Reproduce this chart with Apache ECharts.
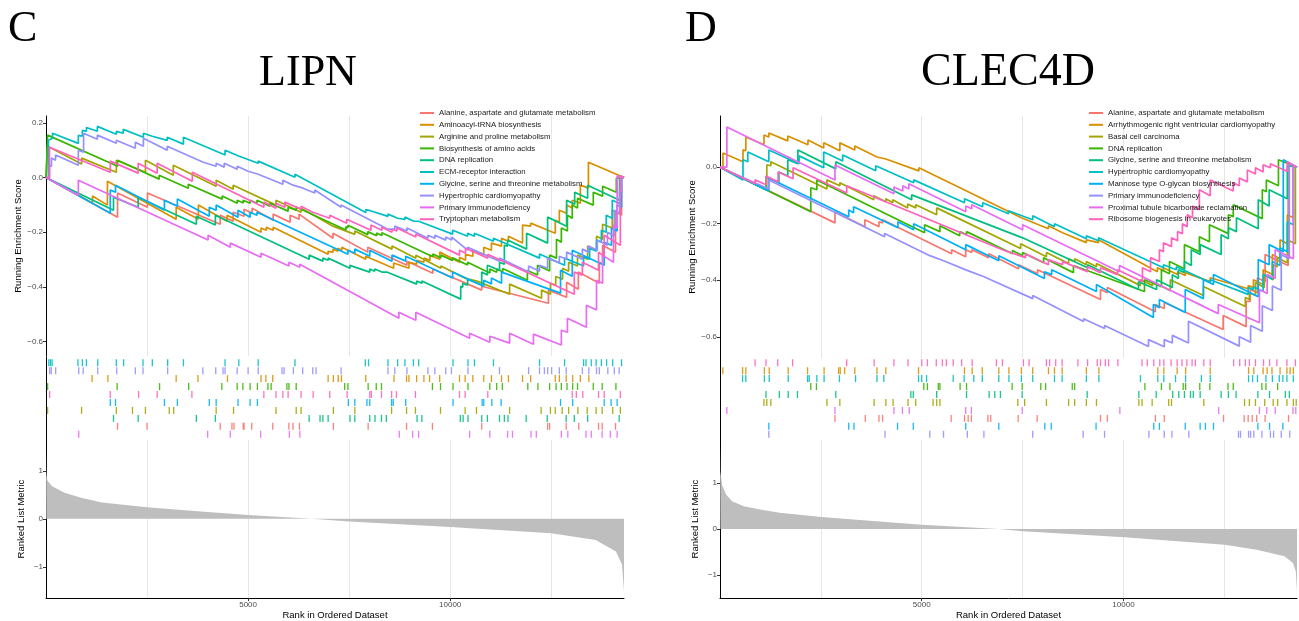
<!DOCTYPE html>
<html>
<head>
<meta charset="utf-8">
<title>GSEA running enrichment - LIPN / CLEC4D</title>
<script src="https://cdn.jsdelivr.net/npm/echarts@6/dist/echarts.min.js"></script>
<style>
  html, body { margin: 0; padding: 0; background: #fff; }
  #chart { width: 1299px; height: 621px; }
</style>
</head>
<body>
<div id="chart"></div>
<script>
// ---------------- data ----------------
const rankMax = 14300
const xTicks = [5000, 10000]
const yTicksTopC = [-0.6, -0.4, -0.2, 0, 0.2]
const yTicksTopD = [-0.6, -0.4, -0.2, 0]
const yTicksMetric = [-1, 0, 1]

const namesC = ['Alanine, aspartate and glutamate metabolism', 'Aminoacyl-tRNA biosynthesis', 'Arginine and proline metabolism',
  'Biosynthesis of amino acids', 'DNA replication', 'ECM-receptor interaction', 'Glycine, serine and threonine metabolism',
  'Hypertrophic cardiomyopathy', 'Primary immunodeficiency', 'Tryptophan metabolism']
const namesD = ['Alanine, aspartate and glutamate metabolism', 'Arrhythmogenic right ventricular cardiomyopathy', 'Basal cell carcinoma',
  'DNA replication', 'Glycine, serine and threonine metabolism', 'Hypertrophic cardiomyopathy', 'Mannose type O-glycan biosynthesis',
  'Primary immunodeficiency', 'Proximal tubule bicarbonate reclamation', 'Ribosome biogenesis in eukaryotes']

// rug row (top = 0) of each gene set, legend order
const rugRowsC = [8, 2, 6, 3, 7, 0, 5, 1, 9, 4]
const rugRowsD = [7, 1, 5, 3, 4, 2, 8, 9, 6, 0]

// running enrichment score, [rank, score]
const esC_alanine = [[1,0],[1770,-0.145],[1770,-0.057],[2510,-0.109],[2510,-0.057],[4310,-0.171],[4310,-0.138],[4630,-0.160],[4630,-0.127],[4900,-0.142],[4900,-0.116],[5100,-0.131],[5100,-0.112],[5620,-0.156],[5620,-0.134],[6040,-0.164],[6040,-0.138],[6260,-0.153],[6260,-0.134],[7100,-0.222],[7100,-0.204],[7960,-0.273],[7960,-0.255],[8930,-0.321],[8930,-0.306],[9570,-0.350],[9570,-0.335],[10780,-0.412],[10780,-0.398],[12430,-0.460],[12430,-0.412],[12880,-0.438],[12880,-0.383],[13170,-0.409],[13170,-0.346],[13690,-0.387],[13690,-0.310],[13770,-0.317],[13770,-0.248],[14090,-0.273],[14090,-0.120],[14240,-0.138],[14240,0.004],[14300,0]]
const esC_aminoacyl = [[1,0],[1150,-0.094],[1150,-0.068],[1520,-0.101],[1520,-0.014],[3220,-0.153],[3220,-0.109],[3770,-0.153],[3770,-0.101],[4480,-0.160],[4480,-0.138],[5320,-0.200],[5320,-0.185],[5450,-0.193],[5450,-0.182],[5620,-0.193],[5620,-0.182],[6980,-0.281],[6980,-0.270],[7100,-0.273],[7100,-0.262],[7220,-0.270],[7220,-0.259],[7320,-0.266],[7320,-0.255],[7910,-0.299],[7910,-0.288],[8600,-0.332],[8600,-0.313],[8980,-0.332],[8980,-0.310],[9170,-0.317],[9170,-0.303],[9350,-0.310],[9350,-0.295],[9500,-0.303],[9500,-0.284],[9740,-0.299],[9740,-0.273],[10230,-0.310],[10230,-0.292],[10380,-0.303],[10380,-0.281],[10560,-0.288],[10560,-0.266],[10830,-0.284],[10830,-0.255],[11020,-0.266],[11020,-0.240],[11270,-0.251],[11270,-0.222],[11440,-0.233],[11440,-0.215],[11790,-0.240],[11790,-0.174],[11990,-0.178],[11990,-0.167],[12600,-0.204],[12600,-0.156],[12700,-0.164],[12700,-0.120],[12880,-0.131],[12880,-0.101],[13020,-0.112],[13020,-0.083],[13220,-0.094],[13220,-0.028],[13420,-0.039],[13420,0.056],[14300,0]]
const esC_arginine = [[1,0],[40,0],[40,0.114],[880,0.049],[880,0.071],[1740,0.019],[1740,0.063],[2460,0.019],[2460,0.063],[3150,0.008],[3150,0.045],[4210,-0.032],[4210,-0.010],[4630,-0.043],[4630,-0.028],[5690,-0.101],[5690,-0.083],[6310,-0.127],[6310,-0.112],[7100,-0.178],[7100,-0.171],[7640,-0.208],[7640,-0.196],[8560,-0.262],[8560,-0.251],[9150,-0.295],[9150,-0.284],[9770,-0.332],[9770,-0.324],[10380,-0.369],[10380,-0.362],[10660,-0.379],[10660,-0.372],[11470,-0.427],[11470,-0.390],[12260,-0.442],[12260,-0.412],[12480,-0.427],[12480,-0.387],[12610,-0.394],[12610,-0.362],[12780,-0.372],[12780,-0.332],[12930,-0.343],[12930,-0.310],[13150,-0.324],[13150,-0.284],[13400,-0.299],[13400,-0.251],[13620,-0.266],[13620,-0.215],[13770,-0.226],[13770,-0.171],[14010,-0.185],[14010,-0.120],[14210,-0.134],[14210,0.005],[14300,0]]
const esC_biosynth = [[1,0],[40,0],[40,0.155],[1770,0.041],[1770,0.063],[2800,-0.006],[2800,0.008],[3520,-0.039],[3520,-0.025],[4360,-0.079],[4360,-0.068],[4730,-0.094],[4730,-0.083],[4880,-0.093],[4880,-0.083],[5050,-0.094],[5050,-0.083],[5220,-0.094],[5220,-0.083],[5540,-0.105],[5540,-0.094],[5990,-0.123],[5990,-0.109],[6190,-0.120],[6190,-0.108],[7420,-0.192],[7420,-0.180],[7470,-0.184],[7470,-0.175],[7960,-0.209],[7960,-0.198],[8180,-0.213],[8180,-0.203],[8310,-0.212],[8310,-0.202],[9570,-0.290],[9570,-0.280],[9770,-0.294],[9770,-0.284],[10060,-0.304],[10060,-0.294],[10430,-0.320],[10430,-0.310],[10980,-0.349],[10980,-0.335],[11150,-0.347],[11150,-0.335],[11300,-0.345],[11300,-0.333],[11910,-0.376],[11910,-0.340],[12160,-0.357],[12160,-0.321],[12460,-0.342],[12460,-0.284],[12630,-0.295],[12630,-0.226],[12750,-0.237],[12750,-0.185],[12900,-0.196],[12900,-0.138],[13020,-0.149],[13020,-0.101],[13150,-0.112],[13150,-0.076],[13540,-0.101],[13540,-0.054],[13770,-0.068],[13770,-0.032],[14110,-0.054],[14110,-0.003],[14300,0]]
const esC_dna = [[1,0],[1670,-0.120],[1670,-0.072],[2280,-0.109],[2280,-0.072],[3720,-0.171],[3720,-0.142],[4190,-0.174],[4190,-0.138],[6510,-0.299],[6510,-0.284],[6850,-0.306],[6850,-0.295],[6980,-0.303],[6980,-0.295],[7520,-0.332],[7520,-0.321],[7640,-0.328],[7640,-0.321],[8010,-0.346],[8010,-0.335],[8130,-0.343],[8130,-0.335],[8310,-0.346],[8310,-0.339],[8430,-0.346],[8430,-0.339],[9170,-0.390],[9170,-0.379],[9300,-0.387],[9300,-0.379],[10260,-0.445],[10260,-0.398],[10310,-0.401],[10310,-0.387],[10430,-0.394],[10430,-0.372],[10780,-0.394],[10780,-0.346],[10920,-0.357],[10920,-0.321],[11220,-0.339],[11220,-0.310],[11340,-0.317],[11340,-0.248],[11420,-0.251],[11420,-0.229],[11890,-0.262],[11890,-0.204],[12410,-0.240],[12410,-0.145],[12880,-0.178],[12880,-0.083],[13080,-0.098],[13080,-0.054],[13400,-0.076],[13400,-0.028],[14190,-0.083],[14190,0.004],[14300,0]]
const esC_ecm = [[1,0],[60,0],[60,0.136],[160,0.144],[160,0.162],[800,0.125],[800,0.154],[900,0.151],[900,0.173],[1000,0.169],[1000,0.183],[1270,0.169],[1270,0.187],[1740,0.158],[1740,0.169],[1910,0.162],[1910,0.176],[2410,0.147],[2410,0.162],[2630,0.151],[2630,0.158],[3000,0.136],[3000,0.147],[3400,0.122],[3400,0.147],[4430,0.082],[4430,0.100],[4780,0.078],[4780,0.085],[5250,0.052],[5250,0.060],[6160,0.001],[6160,0.012],[7910,-0.128],[7910,-0.117],[7990,-0.120],[7990,-0.113],[8460,-0.142],[8460,-0.134],[8700,-0.149],[8700,-0.142],[8880,-0.153],[8880,-0.145],[9100,-0.160],[9100,-0.153],[9220,-0.160],[9220,-0.153],[10060,-0.207],[10060,-0.193],[10430,-0.215],[10430,-0.204],[10600,-0.215],[10600,-0.204],[11070,-0.233],[11070,-0.222],[12210,-0.295],[12210,-0.280],[12830,-0.321],[12830,-0.295],[13300,-0.324],[13300,-0.288],[13450,-0.299],[13450,-0.259],[13620,-0.270],[13620,-0.230],[13740,-0.237],[13740,-0.193],[13860,-0.200],[13860,-0.138],[14010,-0.149],[14010,-0.083],[14230,-0.097],[14230,0.003],[14300,0]]
const esC_glycine = [[1,0],[1590,-0.131],[1590,-0.046],[1720,-0.054],[1720,-0.028],[2930,-0.120],[2930,-0.083],[3250,-0.105],[3250,-0.079],[4040,-0.142],[4040,-0.109],[4210,-0.120],[4210,-0.101],[4750,-0.145],[4750,-0.120],[5050,-0.145],[5050,-0.127],[5220,-0.138],[5220,-0.127],[7470,-0.281],[7470,-0.266],[7640,-0.277],[7640,-0.262],[8010,-0.288],[8010,-0.266],[8560,-0.306],[8560,-0.284],[8900,-0.306],[8900,-0.288],[10060,-0.368],[10060,-0.346],[10830,-0.398],[10830,-0.376],[11020,-0.390],[11020,-0.368],[11270,-0.387],[11270,-0.346],[12730,-0.423],[12730,-0.339],[13020,-0.361],[13020,-0.266],[13810,-0.321],[13810,-0.237],[13990,-0.248],[13990,-0.185],[14130,-0.196],[14130,-0.101],[14240,-0.109],[14240,0.004],[14300,0]]
const esC_hypertrophic = [[1,0],[86,0],[86,0.045],[136,0.041],[136,0.071],[235,0.063],[235,0.082],[800,0.045],[800,0.100],[930,0.093],[930,0.162],[1270,0.140],[1270,0.155],[1740,0.125],[1740,0.136],[2210,0.107],[2210,0.129],[2410,0.114],[2410,0.144],[3000,0.100],[3000,0.114],[3890,0.056],[3890,0.063],[4210,0.041],[4210,0.052],[4410,0.038],[4410,0.052],[4730,0.030],[4730,0.041],[5000,0.023],[5000,0.027],[5250,0.012],[5250,0.019],[5860,-0.025],[5860,-0.010],[6110,-0.028],[6110,-0.021],[6360,-0.039],[6360,-0.035],[6650,-0.057],[6650,-0.046],[7300,-0.109],[7300,-0.101],[8460,-0.189],[8460,-0.182],[8630,-0.189],[8630,-0.178],[8930,-0.196],[8930,-0.185],[9450,-0.222],[9450,-0.211],[9620,-0.222],[9620,-0.211],[9890,-0.229],[9890,-0.218],[10040,-0.229],[10040,-0.218],[10430,-0.266],[10430,-0.255],[11220,-0.306],[11220,-0.295],[11940,-0.346],[11940,-0.324],[12210,-0.343],[12210,-0.321],[12410,-0.332],[12410,-0.295],[12700,-0.313],[12700,-0.288],[12880,-0.299],[12880,-0.273],[13270,-0.299],[13270,-0.262],[13420,-0.273],[13420,-0.251],[13640,-0.266],[13640,-0.229],[13890,-0.248],[13890,-0.200],[14060,-0.215],[14060,-0.120],[14190,-0.131],[14190,-0.046],[14240,-0.050],[14240,0.003],[14300,0]]
const esC_primary = [[1,0],[800,-0.065],[800,-0.010],[4010,-0.229],[4010,-0.211],[4560,-0.255],[4560,-0.240],[5320,-0.292],[5320,-0.277],[6010,-0.324],[6010,-0.310],[6280,-0.328],[6280,-0.317],[8730,-0.515],[8730,-0.493],[9150,-0.522],[9150,-0.493],[10480,-0.588],[10480,-0.570],[10980,-0.603],[10980,-0.581],[11470,-0.606],[11470,-0.570],[12060,-0.610],[12060,-0.573],[12750,-0.613],[12750,-0.559],[12900,-0.566],[12900,-0.515],[13370,-0.548],[13370,-0.467],[13620,-0.485],[13620,-0.376],[13770,-0.387],[13770,-0.284],[14040,-0.310],[14040,-0.174],[14130,-0.185],[14130,0.006],[14300,0]]
const esC_tryptophan = [[1,0],[86,0],[86,0.111],[1590,0.019],[1590,0.060],[2280,0.016],[2280,0.052],[2750,0.016],[2750,0.052],[3620,-0.014],[3620,0.019],[5390,-0.109],[5390,-0.090],[5690,-0.112],[5690,-0.094],[5910,-0.109],[5910,-0.090],[6310,-0.116],[6310,-0.105],[6600,-0.127],[6600,-0.120],[7020,-0.149],[7020,-0.138],[7440,-0.167],[7440,-0.153],[8040,-0.193],[8040,-0.174],[8310,-0.193],[8310,-0.182],[8560,-0.200],[8560,-0.189],[8680,-0.196],[8680,-0.185],[9150,-0.218],[9150,-0.207],[10230,-0.284],[10230,-0.266],[10380,-0.277],[10380,-0.259],[10930,-0.295],[10930,-0.281],[13070,-0.427],[13070,-0.346],[13270,-0.357],[13270,-0.310],[13670,-0.339],[13670,-0.273],[13810,-0.288],[13810,-0.211],[14210,-0.248],[14210,0.005],[14300,0]]

const esD_alanine = [[1,0],[2850,-0.197],[2850,-0.158],[3590,-0.211],[3590,-0.186],[3940,-0.211],[3940,-0.193],[4030,-0.197],[4030,-0.186],[5740,-0.306],[5740,-0.292],[6090,-0.317],[6090,-0.292],[6240,-0.302],[6240,-0.292],[6660,-0.320],[6660,-0.306],[7400,-0.359],[7400,-0.345],[7870,-0.377],[7870,-0.363],[9430,-0.468],[9430,-0.433],[9600,-0.444],[9600,-0.426],[10790,-0.511],[10790,-0.486],[11010,-0.500],[11010,-0.479],[12470,-0.574],[12470,-0.525],[13040,-0.564],[13040,-0.475],[13140,-0.475],[13140,-0.433],[13320,-0.444],[13320,-0.391],[13510,-0.405],[13510,-0.309],[14080,-0.348],[14080,0.015],[14300,0]]
const esD_arrhythmogenic = [[1,0],[74,0],[74,0.050],[570,0.019],[570,0.061],[640,0.058],[640,0.107],[1090,0.079],[1090,0.114],[1210,0.107],[1210,0.121],[1680,0.093],[1680,0.110],[2180,0.079],[2180,0.096],[2570,0.068],[2570,0.086],[2970,0.058],[2970,0.086],[3340,0.061],[3340,0.075],[3890,0.036],[3890,0.043],[4110,0.029],[4110,0.036],[4930,-0.013],[4930,-0.002],[7470,-0.179],[7470,-0.172],[8140,-0.218],[8140,-0.207],[8490,-0.232],[8490,-0.225],[9080,-0.267],[9080,-0.257],[9380,-0.267],[9380,-0.257],[10840,-0.370],[10840,-0.356],[10990,-0.366],[10990,-0.356],[11340,-0.380],[11340,-0.370],[11530,-0.383],[11530,-0.373],[12150,-0.405],[12150,-0.391],[13090,-0.430],[13090,-0.419],[13220,-0.426],[13220,-0.398],[13460,-0.415],[13460,-0.363],[13690,-0.380],[13690,-0.309],[13880,-0.324],[13880,-0.257],[14060,-0.271],[14060,-0.168],[14210,-0.179],[14210,0.005],[14300,0]]
const esD_basal = [[1,0],[1160,-0.080],[1160,0.008],[1260,0.005],[1260,0.019],[2650,-0.077],[2650,-0.045],[2970,-0.066],[2970,-0.055],[3810,-0.115],[3810,-0.101],[4110,-0.122],[4110,-0.112],[4280,-0.126],[4280,-0.115],[4650,-0.144],[4650,-0.130],[4850,-0.144],[4850,-0.133],[5370,-0.168],[5370,-0.144],[7450,-0.288],[7450,-0.271],[8090,-0.317],[8090,-0.302],[8640,-0.341],[8640,-0.324],[8790,-0.334],[8790,-0.324],[9080,-0.345],[9080,-0.334],[9330,-0.352],[9330,-0.341],[10420,-0.419],[10420,-0.398],[10720,-0.419],[10720,-0.405],[11160,-0.437],[11160,-0.398],[11980,-0.454],[11980,-0.422],[13020,-0.493],[13020,-0.461],[13120,-0.468],[13120,-0.444],[13270,-0.454],[13270,-0.408],[13490,-0.426],[13490,-0.380],[13710,-0.398],[13710,-0.345],[13810,-0.352],[13810,-0.320],[14060,-0.338],[14060,-0.257],[14260,-0.271],[14260,0.002],[14300,0]]
const esD_dna = [[1,0],[2250,-0.158],[2250,-0.073],[2400,-0.080],[2400,-0.045],[5070,-0.232],[5070,-0.204],[5450,-0.228],[5450,-0.207],[5940,-0.243],[5940,-0.228],[6110,-0.239],[6110,-0.228],[7250,-0.306],[7250,-0.295],[7500,-0.313],[7500,-0.302],[8020,-0.338],[8020,-0.320],[8760,-0.373],[8760,-0.348],[10520,-0.440],[10520,-0.398],[10940,-0.423],[10940,-0.363],[11140,-0.377],[11140,-0.334],[11510,-0.359],[11510,-0.274],[11880,-0.299],[11880,-0.246],[12130,-0.264],[12130,-0.204],[12600,-0.235],[12600,-0.168],[12720,-0.175],[12720,-0.133],[13440,-0.182],[13440,-0.080],[13540,-0.087],[13540,-0.045],[13840,-0.066],[13840,0.026],[14300,0]]
const esD_glycine = [[1,0],[1140,-0.080],[1140,-0.034],[1460,-0.055],[1460,-0.017],[1680,-0.031],[1680,0.026],[1930,0.012],[1930,0.061],[2870,-0.006],[2870,0.019],[4750,-0.115],[4750,-0.098],[7500,-0.250],[7500,-0.243],[9110,-0.356],[9110,-0.345],[10370,-0.433],[10370,-0.405],[10820,-0.433],[10820,-0.398],[11210,-0.426],[11210,-0.380],[11360,-0.394],[11360,-0.363],[11510,-0.373],[11510,-0.334],[11680,-0.348],[11680,-0.292],[11900,-0.309],[11900,-0.274],[12420,-0.309],[12420,-0.239],[12600,-0.253],[12600,-0.214],[12800,-0.228],[12800,-0.179],[13340,-0.218],[13340,-0.115],[13610,-0.137],[13610,-0.080],[14060,-0.112],[14060,0.005],[14300,0]]
const esD_hypertrophic = [[1,0],[570,-0.045],[570,0.026],[690,0.019],[690,0.054],[1210,0.019],[1210,0.061],[1960,0.012],[1960,0.040],[2570,-0.002],[2570,0.054],[3040,0.022],[3040,0.043],[3860,-0.013],[3860,0.005],[4800,-0.055],[4800,-0.045],[6060,-0.126],[6060,-0.112],[6510,-0.140],[6510,-0.126],[7150,-0.165],[7150,-0.154],[7750,-0.186],[7750,-0.172],[8290,-0.211],[8290,-0.200],[9080,-0.253],[9080,-0.243],[9380,-0.260],[9380,-0.250],[10990,-0.356],[10990,-0.345],[11310,-0.363],[11310,-0.352],[12150,-0.408],[12150,-0.398],[13090,-0.450],[13090,-0.426],[13220,-0.433],[13220,-0.423],[13460,-0.440],[13460,-0.380],[13690,-0.396],[13690,-0.334],[13880,-0.348],[13880,-0.285],[14060,-0.299],[14060,-0.193],[14210,-0.204],[14210,0.005],[14300,0]]
const esD_mannose = [[1,0],[1210,-0.084],[1210,-0.038],[3190,-0.175],[3190,-0.151],[3310,-0.161],[3310,-0.140],[4410,-0.214],[4410,-0.193],[4800,-0.221],[4800,-0.200],[6090,-0.292],[6090,-0.274],[6910,-0.331],[6910,-0.313],[8040,-0.394],[8040,-0.370],[8220,-0.380],[8220,-0.363],[9330,-0.440],[9330,-0.415],[10740,-0.532],[10740,-0.486],[10890,-0.497],[10890,-0.468],[11530,-0.514],[11530,-0.433],[11980,-0.465],[11980,-0.398],[12230,-0.415],[12230,-0.380],[13340,-0.458],[13340,-0.327],[13610,-0.345],[13610,-0.274],[13960,-0.299],[13960,0.026],[14300,0]]
const esD_primary = [[1,0],[1210,-0.077],[1210,-0.045],[4080,-0.246],[4080,-0.235],[5200,-0.313],[5200,-0.306],[5540,-0.331],[5540,-0.324],[6140,-0.366],[6140,-0.359],[6530,-0.387],[6530,-0.380],[7750,-0.465],[7750,-0.454],[9010,-0.546],[9010,-0.536],[9530,-0.571],[9530,-0.560],[10620,-0.634],[10620,-0.610],[11010,-0.635],[11010,-0.610],[11210,-0.622],[11210,-0.595],[11610,-0.622],[11610,-0.545],[12870,-0.633],[12870,-0.600],[13150,-0.619],[13150,-0.560],[13440,-0.580],[13440,-0.490],[13690,-0.507],[13690,-0.420],[13910,-0.435],[13910,-0.310],[14110,-0.324],[14110,0.012],[14300,0]]
const esD_proximal = [[1,0],[170,0],[170,0.142],[2850,-0.045],[2850,0.008],[4310,-0.094],[4310,-0.070],[4530,-0.084],[4530,-0.066],[4680,-0.077],[4680,-0.059],[6090,-0.158],[6090,-0.137],[6240,-0.147],[6240,-0.133],[7500,-0.221],[7500,-0.204],[9900,-0.370],[9900,-0.348],[12350,-0.518],[12350,-0.486],[13370,-0.550],[13370,-0.433],[13560,-0.447],[13560,-0.380],[13760,-0.394],[13760,-0.292],[14210,-0.324],[14210,0.005],[14300,0]]
const esD_ribosome = [[1,0],[870,-0.059],[870,-0.045],[1140,-0.062],[1140,-0.031],[1440,-0.052],[1440,-0.017],[1810,-0.041],[1810,-0.002],[3140,-0.091],[3140,-0.066],[7000,-0.292],[7000,-0.285],[7570,-0.320],[7570,-0.306],[8140,-0.345],[8140,-0.327],[8490,-0.345],[8490,-0.334],[9110,-0.370],[9110,-0.352],[9430,-0.373],[9430,-0.356],[9850,-0.380],[9850,-0.363],[10470,-0.405],[10470,-0.356],[10670,-0.370],[10670,-0.320],[10890,-0.334],[10890,-0.292],[10990,-0.299],[10990,-0.267],[11190,-0.281],[11190,-0.250],[11340,-0.260],[11340,-0.228],[11460,-0.235],[11460,-0.200],[11580,-0.211],[11580,-0.168],[11710,-0.179],[11710,-0.137],[11880,-0.151],[11880,-0.080],[12150,-0.101],[12150,-0.045],[12720,-0.084],[12720,-0.055],[12870,-0.066],[12870,-0.038],[13070,-0.052],[13070,-0.010],[13270,-0.024],[13270,-0.002],[13460,-0.017],[13460,0.008],[13640,-0.002],[13640,0.012],[14060,-0.015],[14060,0.019],[14300,0]]

// hit positions (rank) for the rug plot
const hitsC_alanine = [1770,2500,4310,4600,4650,4880,4900,5090,5610,6010,6110,6270,7110,7970,8920,9560,10780,12410,12460,12870,13180,13670,13760,14090]
const hitsC_aminoacyl = [1140,1530,3220,3760,4490,5320,5440,5610,6980,7110,7230,7310,7910,8610,8920,8980,9170,9350,9490,9740,10230,10370,10560,10830,11020,11270,11440,11790,11990,12600,12700,12870,13030,13220,13430]
const hitsC_arginine = [40,880,1740,2140,2460,3050,3160,4210,4640,5690,6190,6310,7110,7640,8550,8920,9140,9760,10370,10650,11470,12250,12480,12600,12770,12930,13160,13390,13610,13760,14020,14210]
const hitsC_biosynth = [40,1760,2810,3530,4350,4730,4870,5050,5230,5490,5570,5960,6010,6190,7390,7470,7970,8170,8300,9560,9760,10070,10440,10980,11150,11290,11920,12170,12460,12620,12750,12890,13030,13150,13540,13760,14100]
const hitsC_dna = [1670,2280,3720,4190,6510,6780,6850,6980,7520,7640,8010,8140,8300,8420,9180,9300,10250,10320,10440,10780,10920,11220,11340,11430,11880,12400,12870,13070,13400,14180]
const hitsC_ecm = [70,110,150,790,900,1000,1280,1740,1920,2400,2630,3010,3400,4430,4770,5250,6160,7900,7980,8460,8700,8880,9090,9220,10070,10440,10600,11070,12210,12830,13300,13360,13490,13610,13740,13870,14020,14240]
const hitsC_glycine = [1590,1720,2930,3250,4040,4210,4750,5050,5230,7480,7640,7940,8010,8550,8590,8900,10070,10790,10830,11030,11260,12730,13030,13810,13980,14130]
const hitsC_hypertrophic = [90,130,240,810,920,1280,1750,2210,2400,3010,3880,4200,4380,4430,4730,5000,5250,5840,5890,6120,6350,6600,6680,7300,8460,8630,8930,9450,9620,9890,10030,10440,11220,11940,12210,12330,12410,12510,12700,12870,13270,13430,13620,13690,13900,14060,14180]
const hitsC_primary = [810,4000,4560,5310,6020,6280,8740,9070,9220,10480,10980,11420,11540,12000,12130,12750,12910,13360,13490,13760,13960,14130]
const hitsC_tryptophan = [90,1590,2290,2750,3610,5390,5690,5860,5990,6310,6610,7020,7450,8010,8050,8300,8550,8670,9140,10230,10370,10930,13020,13120,13280,13670,13810,14210]

const hitsD_alanine = [2850,3600,3940,4030,5730,6060,6150,6230,6640,6710,7390,7860,9430,9600,10790,11010,12480,12990,13090,13190,13300,13510,14090]
const hitsD_arrhythmogenic = [70,560,640,1100,1220,1690,2170,2580,2940,2980,3090,3340,3890,4110,4920,6060,6250,6500,6910,7160,7470,7750,8140,8290,8480,9080,9390,10850,11000,11330,11540,12150,13100,13230,13460,13560,13680,13880,14050,14130,14210]
const hitsD_basal = [1090,1160,1260,2650,2970,3820,4110,4290,4660,4850,5280,5370,5450,7380,7550,8090,8640,8790,9080,9330,10380,10460,10710,11120,11190,11990,13000,13120,13270,13500,13710,13820,14050,14210,14280]
const hitsD_dna = [2250,2390,5050,5140,5410,5450,5950,6110,7240,7490,7950,8070,8730,8790,10530,10940,11150,11480,11540,11890,12140,12590,12720,13430,13530,13820]
const hitsD_glycine = [1140,1470,1690,1920,2870,4730,4790,5370,6110,6670,6810,6950,7490,9100,10380,10810,11220,11370,11510,11660,11730,11900,12420,12600,12790,13330,13620,14010,14110]
const hitsD_hypertrophic = [560,640,1100,1220,1690,2170,2210,2400,2580,2960,3360,3890,4060,4920,5000,5120,5780,6050,6290,6500,6910,7160,7470,7750,8290,8480,9080,9390,10420,10850,11000,11290,11540,11930,12150,13100,13200,13320,13530,13690,13860,13950,14050,14210]
const hitsD_mannose = [1210,3190,3320,4400,4790,6090,6910,8050,8210,9320,10750,10890,11530,11900,12030,12230,13330,13620,13950]
const hitsD_primary = [1210,4090,5200,5540,6130,6540,7750,9000,9530,10630,11010,11200,11620,12850,12900,13100,13150,13230,13430,13640,13720,13910,14120]
const hitsD_proximal = [170,2850,4310,4520,4690,6090,6230,7490,9910,12360,13370,13550,13760,14200,14270]
const hitsD_ribosome = [870,1140,1430,1800,3140,3820,4310,4660,5000,5140,5360,5510,5610,5780,5990,6250,6850,7000,7520,7660,8090,8170,8320,8480,8870,9110,9350,9430,9550,9630,9860,10460,10590,10750,10900,11000,11180,11330,11450,11570,11700,11780,11990,12150,12730,12880,13020,13120,13270,13470,13620,13800,14050,14260]

// ranked list metric, [rank, metric]
const metricC = [[1,1.45],[8,1.0],[30,0.8],[150,0.68],[460,0.54],[870,0.44],[1380,0.34],[2500,0.24],[3750,0.155],[5000,0.08],[6580,0],[7500,-0.055],[10000,-0.17],[12500,-0.3],[13600,-0.44],[14100,-0.68],[14250,-0.95],[14300,-1.5]]
const metricD = [[1,1.82],[10,1.25],[50,0.96],[150,0.75],[300,0.6],[590,0.49],[990,0.42],[1480,0.35],[2510,0.26],[5000,0.094],[6900,0],[7510,-0.05],[10020,-0.18],[12510,-0.34],[13300,-0.45],[13990,-0.59],[14200,-0.74],[14270,-0.92],[14300,-1.36]]

const esC = [esC_alanine, esC_aminoacyl, esC_arginine, esC_biosynth, esC_dna, esC_ecm, esC_glycine, esC_hypertrophic, esC_primary, esC_tryptophan]
const esD = [esD_alanine, esD_arrhythmogenic, esD_basal, esD_dna, esD_glycine, esD_hypertrophic, esD_mannose, esD_primary, esD_proximal, esD_ribosome]
const hitsC = [hitsC_alanine, hitsC_aminoacyl, hitsC_arginine, hitsC_biosynth, hitsC_dna, hitsC_ecm, hitsC_glycine, hitsC_hypertrophic, hitsC_primary, hitsC_tryptophan]
const hitsD = [hitsD_alanine, hitsD_arrhythmogenic, hitsD_basal, hitsD_dna, hitsD_glycine, hitsD_hypertrophic, hitsD_mannose, hitsD_primary, hitsD_proximal, hitsD_ribosome]

// ---------------- styling ----------------
const hue = ['#F8766D', '#D89000', '#A3A500', '#39B600', '#00BF7D', '#00BFC4', '#00B0F6', '#9590FF', '#E76BF3', '#FF62BC']
const sans = '"Liberation Sans", Arial, sans-serif'
const serif = '"Liberation Serif", "Times New Roman", serif'
const tickText = { fontSize: 8, color: '#4D4D4D', fontFamily: sans }
const gridColor = '#E6E6E6'

function fmtTop(v) { return v.toFixed(1).replace('-', '\u2212') }
function fmtMetric(v) { return String(v).replace('-', '\u2212') }
function fmtRank(v) { return String(v) }

const panels = [
  { key: 'C', left: 46, width: 578, topH: 240, topMin: -0.653, topMax: 0.225, topTicks: yTicksTopC,
    mMin: -1.65, mMax: 1.64, es: esC, hits: hitsC, names: namesC, rows: rugRowsC, metric: metricC, legendLeft: 420 },
  { key: 'D', left: 720, width: 577, topH: 242, topMin: -0.675, topMax: 0.181, topTicks: yTicksTopD,
    mMin: -1.5, mMax: 1.93, es: esD, hits: hitsD, names: namesD, rows: rugRowsD, metric: metricD, legendLeft: 1089 }
]

const grid = [], xAxis = [], yAxis = [], series = [], legend = []
const gridLineAxes = []

panels.forEach(function (p, pi) {
  const g0 = pi * 3
  grid.push({ left: p.left, top: 116, width: p.width, height: p.topH })
  grid.push({ left: p.left, top: 357, width: p.width, height: 83 })
  grid.push({ left: p.left, top: 440, width: p.width, height: 161 })

  for (let k = 0; k < 3; k++) {
    const isBottom = k === 2
    xAxis.push({
      type: 'value', gridIndex: g0 + k, min: 0, max: rankMax,
      axisLine: { show: isBottom, onZero: false, lineStyle: { color: '#000', width: 1 } },
      axisTick: { show: isBottom, customValues: xTicks, length: 3, lineStyle: { color: '#333' } },
      axisLabel: { show: isBottom, customValues: xTicks, formatter: fmtRank, margin: 3, ...tickText },
      splitLine: { show: false },
      name: isBottom ? 'Rank in Ordered Dataset' : '',
      nameLocation: 'middle', nameGap: 9,
      nameTextStyle: { fontSize: 9.5, color: '#000', fontFamily: sans }
    })
    // light vertical grid lines every 2500 (top and bottom panels only)
    if (k !== 1) {
      gridLineAxes.push({
        type: 'value', gridIndex: g0 + k, min: 0, max: rankMax, interval: 2500, position: 'bottom',
        axisLine: { show: false }, axisTick: { show: false }, axisLabel: { show: false },
        splitLine: { show: true, showMinLine: false, showMaxLine: false, lineStyle: { color: gridColor, width: 1 } },
        z: 0
      })
    }
  }

  yAxis.push({
    type: 'value', gridIndex: g0, min: p.topMin, max: p.topMax,
    axisLine: { show: true, lineStyle: { color: '#000', width: 1 } },
    axisTick: { show: true, customValues: p.topTicks, length: 3, lineStyle: { color: '#333' } },
    axisLabel: { customValues: p.topTicks, formatter: fmtTop, margin: 3, ...tickText },
    splitLine: { show: false },
    name: 'Running Enrichment Score', nameLocation: 'middle', nameGap: 20,
    nameTextStyle: { fontSize: 9.5, color: '#000', fontFamily: sans }
  })
  yAxis.push({
    type: 'value', gridIndex: g0 + 1, min: -0.72, max: 9.72, inverse: true,
    axisLine: { show: true, lineStyle: { color: '#000', width: 1 } },
    axisTick: { show: false }, axisLabel: { show: false }, splitLine: { show: false }
  })
  yAxis.push({
    type: 'value', gridIndex: g0 + 2, min: p.mMin, max: p.mMax,
    axisLine: { show: true, onZero: false, lineStyle: { color: '#000', width: 1 } },
    axisTick: { show: true, customValues: yTicksMetric, length: 3, lineStyle: { color: '#333' } },
    axisLabel: { customValues: yTicksMetric, formatter: fmtMetric, margin: 3, ...tickText },
    splitLine: { show: false },
    name: 'Ranked List Metric', nameLocation: 'middle', nameGap: 20,
    nameTextStyle: { fontSize: 9.5, color: '#000', fontFamily: sans }
  })

  p.names.forEach(function (name, i) {
    series.push({
      name: p.key + '|' + name, type: 'line', xAxisIndex: g0, yAxisIndex: g0,
      data: p.es[i], showSymbol: false, symbol: 'none', silent: true,
      lineStyle: { color: hue[i], width: 1.7 }, itemStyle: { color: hue[i] }, z: 2 + i * 0.01
    })
    series.push({
      name: 'rug' + p.key + '|' + name, type: 'scatter', xAxisIndex: g0 + 1, yAxisIndex: g0 + 1,
      data: p.hits[i].map(function (h) { return [h, p.rows[i]] }),
      symbol: 'rect', symbolSize: [1.3, 7], silent: true,
      itemStyle: { color: hue[i], opacity: 0.9 }
    })
  })

  series.push({
    name: 'metric' + p.key, type: 'line', xAxisIndex: g0 + 2, yAxisIndex: g0 + 2,
    data: p.metric, showSymbol: false, symbol: 'none', silent: true,
    lineStyle: { width: 0 }, areaStyle: { color: '#BEBEBE', opacity: 1, origin: 0 }
  })

  legend.push({
    data: p.names.map(function (n) { return p.key + '|' + n }),
    orient: 'vertical', left: p.legendLeft, top: 108, padding: 0,
    icon: 'rect', itemWidth: 14, itemHeight: 2, itemGap: 1.8, selectedMode: false,
    formatter: function (n) { return n.split('|')[1] },
    textStyle: { fontSize: 7.8, lineHeight: 10, color: '#1A1A1A', fontFamily: sans }
  })
})

const chart = echarts.init(document.getElementById('chart'))
chart.setOption({
  animation: false,
  backgroundColor: '#fff',
  grid: grid, xAxis: xAxis.concat(gridLineAxes), yAxis: yAxis, series: series, legend: legend,
  graphic: [
    { type: 'text', x: 8, y: 29, style: { text: 'C', font: '44px ' + serif, fill: '#000', textVerticalAlign: 'middle' } },
    { type: 'text', x: 308, y: 73, style: { text: 'LIPN', font: '44px ' + serif, fill: '#000', textAlign: 'center', textVerticalAlign: 'middle' } },
    { type: 'text', x: 685, y: 29, style: { text: 'D', font: '44px ' + serif, fill: '#000', textVerticalAlign: 'middle' } },
    { type: 'text', x: 1008, y: 73, style: { text: 'CLEC4D', font: '46px ' + serif, fill: '#000', textAlign: 'center', textVerticalAlign: 'middle' } }
  ]
})
</script>
</body>
</html>
